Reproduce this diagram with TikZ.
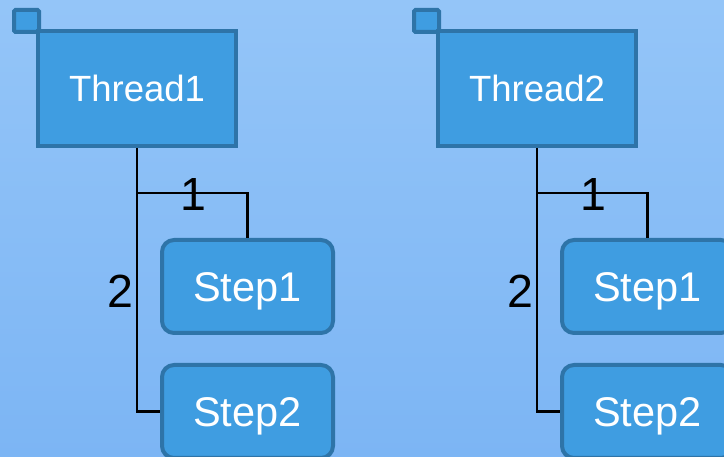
\documentclass[tikz,border=0pt]{standalone}
\usepackage{fontspec}
\setmainfont{Liberation Sans}
\definecolor{bgtop}{HTML}{94C5F8}
\definecolor{bgbot}{HTML}{7CB5F4}
\definecolor{boxfill}{HTML}{3F9DE1}
\definecolor{boxline}{HTML}{2E74A8}
\tikzset{
  threadbox/.style={draw=boxline, fill=boxfill, line width=4pt, minimum width=198pt, minimum height=115pt, inner sep=0pt, text depth=0pt, text=white, font=\fontsize{36.5}{40}\selectfont},
  flagbox/.style={draw=boxline, fill=boxfill, line width=4pt, minimum width=25pt, minimum height=22pt, inner sep=0pt, rounded corners=1.5pt},
  stepbox/.style={draw=boxline, fill=boxfill, line width=4pt, minimum width=171pt, minimum height=93pt, inner sep=0pt, text depth=0pt, rounded corners=12pt, text=white, font=\fontsize{41.5}{44}\selectfont},
  steptext/.style={yshift=-1.5pt},
  conn/.style={draw=black, line width=2.5pt},
  num/.style={text=black, inner sep=0pt, text depth=0pt, font=\fontsize{46.5}{48}\selectfont}
}
\begin{document}
\begin{tikzpicture}[x=1pt,y=-1pt]
\useasboundingbox (0,0) rectangle (724,457);
\clip (0,0) rectangle (724,457);
\shade[top color=bgtop, bottom color=bgbot] (0,0) rectangle (724,457);
% left group
\node[flagbox] (f1) at (26.5,21) {};
\node[threadbox] (t1) at (137,88.5) {Thread1};
\node[stepbox] (s11) at (247.5,286.5) {\raisebox{-1.5pt}{Step1}};
\node[stepbox] (s12) at (247.5,411.5) {\raisebox{-1.5pt}{Step2}};
\coordinate (j1) at (137,193);
\draw[conn] (t1.south) -- (t1.south |- s12.west) -- (s12.west);
\draw[conn] (j1) -| (s11.north);
\node[num] (n11) at (193,195) {1};
\node[num] (n12) at (120,291) {2};
% right group
\node[flagbox] (f2) at (426.5,21) {};
\node[threadbox] (t2) at (537,88.5) {Thread2};
\node[stepbox] (s21) at (647.5,286.5) {\raisebox{-1.5pt}{Step1}};
\node[stepbox] (s22) at (647.5,411.5) {\raisebox{-1.5pt}{Step2}};
\coordinate (j2) at (537,193);
\draw[conn] (t2.south) -- (t2.south |- s22.west) -- (s22.west);
\draw[conn] (j2) -| (s21.north);
\node[num] (n21) at (593,195) {1};
\node[num] (n22) at (520,291) {2};
\end{tikzpicture}
\end{document}
